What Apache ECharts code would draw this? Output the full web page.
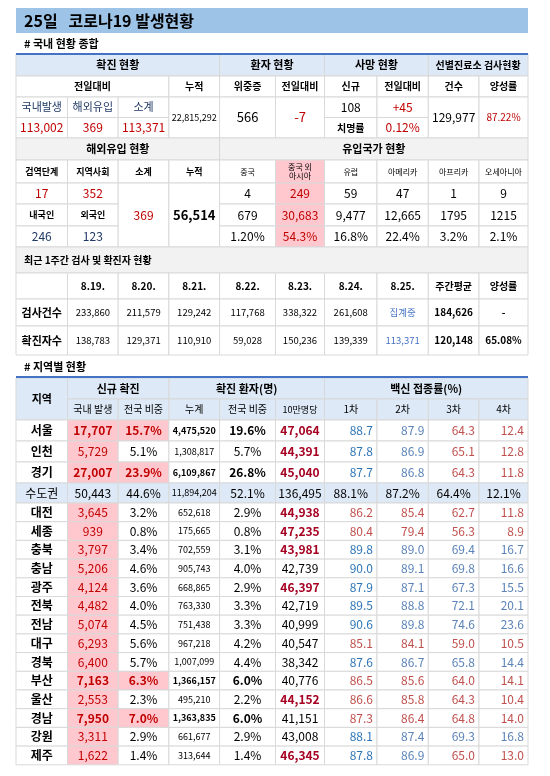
<!DOCTYPE html>
<html><head><meta charset="utf-8">
<script src="https://cdn.jsdelivr.net/npm/echarts@6/dist/echarts.min.js"></script>
<style>html,body{margin:0;background:#fff}#c{width:550px;height:776px}</style>
</head><body><div id="c"></div>
<script>
// 국내 현황 종합
var domesticNew = [113002, 369, 113371];
var cumulative = 22815292;
var critical = 566, criticalDiff = -7;
var deaths = 108, deathsDiff = 45, fatality = '0.12%';
var screenTests = 129977, screenPositive = '87.22%';
// 해외유입
var importStage = [17, 352], importTotal = 369, importCum = 56514;
var importNation = [246, 123];
var originNames = ['중국', '중국 외\n아시아', '유럽', '아메리카', '아프리카', '오세아니아'];
var originToday = [4, 249, 59, 47, 1, 9];
var originCum = [679, 30683, 9477, 12665, 1795, 1215];
var originShare = ['1.20%', '54.3%', '16.8%', '22.4%', '3.2%', '2.1%'];
// 최근 1주간
var weekDates = ['8.19.', '8.20.', '8.21.', '8.22.', '8.23.', '8.24.', '8.25.'];
var weekTests = [233860, 211579, 129242, 117768, 338322, 261608, null];
var weekCases = [138783, 129371, 110910, 59028, 150236, 139339, 113371];
var weekAvg = [184626, 120148], weekRate = ['-', '65.08%'];
// 지역별 현황
var regions = ['서울','인천','경기','수도권','대전','세종','충북','충남','광주','전북','전남','대구','경북','부산','울산','경남','강원','제주'];
var newCases = [17707,5729,27007,50443,3645,939,3797,5206,4124,4482,5074,6293,6400,7163,2553,7950,3311,1622];
var newShare = [15.7,5.1,23.9,44.6,3.2,0.8,3.4,4.6,3.6,4.0,4.5,5.6,5.7,6.3,2.3,7.0,2.9,1.4];
var cumCases = [4475520,1308817,6109867,11894204,652618,175665,702559,905743,668865,763330,751438,967218,1007099,1366157,495210,1363835,661677,313644];
var cumShare = [19.6,5.7,26.8,52.1,2.9,0.8,3.1,4.0,2.9,3.3,3.3,4.2,4.4,6.0,2.2,6.0,2.9,1.4];
var per100k = [47064,44391,45040,136495,44938,47235,43981,42739,46397,42719,40999,40547,38342,40776,44152,41151,43008,46345];
var dose1 = [88.7,87.8,87.7,88.1,86.2,80.4,89.8,90.0,87.9,89.5,90.6,85.1,87.6,86.5,86.6,87.3,88.1,87.8];
var dose2 = [87.9,86.9,86.8,87.2,85.4,79.4,89.0,89.1,87.1,88.8,89.8,84.1,86.7,85.6,85.8,86.4,87.4,86.9];
var dose3 = [64.3,65.1,64.3,64.4,62.7,56.3,69.4,69.8,67.3,72.1,74.6,59.0,65.8,64.0,64.3,64.8,69.3,65.0];
var dose4 = [12.4,12.8,11.8,12.1,11.8,8.9,16.7,16.6,15.5,20.1,23.6,10.5,14.4,14.1,10.4,14.0,16.8,13.0];
var hotRegion = [1,0,1,0,0,0,0,0,0,0,0,0,0,1,0,1,0,0];
var highPer100k = [1,1,1,0,1,1,1,0,1,0,0,0,0,0,1,0,0,1];
var doseTone = ['bbrr','bbrr','bbrr','','rrrr','rrrr','bbbb','bbbb','bbbb','bbbb','bbbb','rrrr','bbbb','rrrr','rrrr','rrrr','bbbb','bbrr'];

// 레이아웃
var COLS = [16, 67.5, 118.2, 168.9, 219.6, 275.5, 324.5, 377, 428.3, 479, 528];
var RED = '#c00000', NAVY = '#1f3864', BLUE = '#2e75b6', BLUE2 = '#5b83b8', RED2 = '#c0504d';
var HEAD = '#dde9f6', GRAY = '#f2f2f2', PINK = '#ffc7ce';
var cells = [];
function fmt(n) { return n.toLocaleString('en-US'); }
function cell(c0, c1, y0, y1, text, o) {
    o = o || {};
    cells.push({c0: c0, c1: c1, y0: y0, y1: y1, text: text == null ? '' : String(text),
        fill: o.fill || '#fff', color: o.color || '#000', bold: o.bold, size: o.size || 12,
        align: o.align || 'center', stroke: o.stroke === undefined ? '#d9d9d9' : o.stroke});
}

// 제목
cell(0, 10, 8, 33, '25일   코로나19 발생현황', {fill: '#9dc3e6', bold: true, size: 16, align: 'left', stroke: null});
cell(0, 10, 35, 52, '# 국내 현황 종합', {bold: true, size: 11, align: 'left', stroke: null});

// 국내 현황 표
var T = [54, 76, 97, 117.5, 138];
cell(0, 4, T[0], T[1], '확진 현황', {fill: HEAD, bold: true, size: 11});
cell(4, 6, T[0], T[1], '환자 현황', {fill: HEAD, bold: true, size: 11});
cell(6, 8, T[0], T[1], '사망 현황', {fill: HEAD, bold: true, size: 11});
cell(8, 10, T[0], T[1], '선별진료소 검사현황', {fill: HEAD, bold: true, size: 10});
cell(0, 3, T[1], T[2], '전일대비', {size: 10, bold: true});
['누적', '위중증', '전일대비', '신규', '전일대비', '건수', '양성률'].forEach(function (t, i) {
    cell(3 + i, 4 + i, T[1], T[2], t, {size: 10, bold: true});
});
['국내발생', '해외유입', '소계'].forEach(function (t, i) { cell(i, i + 1, T[2], T[3], t, {size: 11, color: NAVY}); });
domesticNew.forEach(function (v, i) { cell(i, i + 1, T[3], T[4], fmt(v), {size: 12, color: RED}); });
cell(3, 4, T[2], T[4], fmt(cumulative), {size: 9});
cell(4, 5, T[2], T[4], critical, {size: 13});
cell(5, 6, T[2], T[4], criticalDiff, {size: 13, color: RED});
cell(6, 7, T[2], T[3], deaths, {size: 12});
cell(7, 8, T[2], T[3], '+' + deathsDiff, {size: 12, color: RED});
cell(6, 7, T[3], T[4], '치명률', {size: 10, bold: true});
cell(7, 8, T[3], T[4], fatality, {size: 12, color: RED});
cell(8, 9, T[2], T[4], fmt(screenTests), {size: 12});
cell(9, 10, T[2], T[4], screenPositive, {size: 10, color: RED});

// 해외유입
var S = [138, 160, 183, 204, 226, 247];
cell(0, 4, S[0], S[1], '해외유입 현황', {fill: GRAY, bold: true, size: 11});
cell(4, 10, S[0], S[1], '유입국가 현황', {fill: GRAY, bold: true, size: 11});
['검역단계', '지역사회', '소계', '누적'].forEach(function (t, i) { cell(i, i + 1, S[1], S[2], t, {size: 9, bold: true}); });
originNames.forEach(function (t, i) {
    cell(4 + i, 5 + i, S[1], S[2], t, {size: 8, fill: i == 1 ? PINK : '#fff'});
});
importStage.forEach(function (v, i) { cell(i, i + 1, S[2], S[3], v, {size: 12, color: RED}); });
cell(0, 1, S[3], S[4], '내국인', {size: 9, bold: true});
cell(1, 2, S[3], S[4], '외국인', {size: 9, bold: true});
importNation.forEach(function (v, i) { cell(i, i + 1, S[4], S[5], v, {size: 12, color: NAVY}); });
cell(2, 3, S[2], S[5], importTotal, {size: 12, color: RED});
cell(3, 4, S[2], S[5], fmt(importCum), {size: 13, bold: true});
[originToday, originCum, originShare].forEach(function (arr, r) {
    arr.forEach(function (v, i) {
        // 아프리카·오세아니아 누적은 원본처럼 쉼표 없이
        var t = (typeof v == 'number' && i < 4) ? fmt(v) : v;
        cell(4 + i, 5 + i, S[2 + r], S[3 + r], t,
            {size: 12, fill: i == 1 ? PINK : '#fff', color: i == 1 ? RED : '#000'});
    });
});

// 최근 1주간
cell(0, 10, 247, 273, '최근 1주간 검사 및 확진자 현황', {fill: GRAY, bold: true, size: 10, align: 'left'});
var W = [273, 299, 326, 355];
cell(0, 1, W[0], W[1], '');
weekDates.forEach(function (d, i) { cell(1 + i, 2 + i, W[0], W[1], d, {size: 10, bold: true}); });
cell(8, 9, W[0], W[1], '주간평균', {size: 10, bold: true});
cell(9, 10, W[0], W[1], '양성률', {size: 10, bold: true});
[['검사건수', weekTests], ['확진자수', weekCases]].forEach(function (row, r) {
    cell(0, 1, W[1 + r], W[2 + r], row[0], {size: 11, bold: true});
    row[1].forEach(function (v, i) {
        var last = i == 6;
        cell(1 + i, 2 + i, W[1 + r], W[2 + r], v == null ? '집계중' : fmt(v), {size: 9.5, color: last ? '#4472c4' : '#000'});
    });
    cell(8, 9, W[1 + r], W[2 + r], fmt(weekAvg[r]), {size: 10, bold: true});
    cell(9, 10, W[1 + r], W[2 + r], weekRate[r], {size: 10, bold: true});
});

// 지역별 현황
cell(0, 10, 358, 376, '# 지역별 현황', {bold: true, size: 11, align: 'left', stroke: null});
var H = [378, 399, 420];
cell(0, 1, H[0], H[2], '지역', {fill: HEAD, bold: true, size: 11});
cell(1, 3, H[0], H[1], '신규 확진', {fill: HEAD, bold: true, size: 11});
cell(3, 6, H[0], H[1], '확진 환자(명)', {fill: HEAD, bold: true, size: 11});
cell(6, 10, H[0], H[1], '백신 접종률(%)', {fill: HEAD, bold: true, size: 11});
['국내 발생', '전국 비중', '누계', '전국 비중', '10만명당', '1차', '2차', '3차', '4차'].forEach(function (t, i) {
    cell(1 + i, 2 + i, H[1], H[2], t, {fill: HEAD, size: i == 4 ? 9 : 10});
});
var rowY = [420, 441, 462, 483, 503];
for (var k = 1; k <= 14; k++) rowY.push(503 + k * 18.7);
regions.forEach(function (name, r) {
    var y0 = rowY[r], y1 = rowY[r + 1], cap = name == '수도권', hot = hotRegion[r];
    var bg = cap ? HEAD : '#fff';
    cell(0, 1, y0, y1, name, {fill: bg, bold: !cap, size: 12});
    cell(1, 2, y0, y1, fmt(newCases[r]), {fill: cap ? bg : PINK, color: cap ? '#000' : RED, bold: hot, size: 12});
    cell(2, 3, y0, y1, newShare[r].toFixed(1) + '%', {fill: cap ? bg : (hot ? PINK : '#fff'), color: hot ? RED : '#000', bold: hot, size: 12});
    cell(3, 4, y0, y1, fmt(cumCases[r]), {fill: bg, bold: hot, size: 9});
    cell(4, 5, y0, y1, cumShare[r].toFixed(1) + '%', {fill: bg, bold: hot, size: 12});
    cell(5, 6, y0, y1, fmt(per100k[r]), {fill: bg, color: highPer100k[r] ? '#a50021' : '#000', bold: highPer100k[r], size: 12});
    [dose1, dose2, dose3, dose4].forEach(function (arr, j) {
        var tone = doseTone[r].charAt(j);
        var col = cap ? '#000' : (tone == 'b' ? (j == 0 ? BLUE : BLUE2) : RED2);
        cell(6 + j, 7 + j, y0, y1, arr[r].toFixed(1) + (cap ? '%' : ''), {fill: bg, color: col, size: 12, align: cap ? 'center' : 'right'});
    });
});

var chart = echarts.init(document.getElementById('c'));
chart.setOption({
    animation: false,
    grid: {left: 0, right: 0, top: 0, bottom: 0},
    xAxis: {type: 'value', min: 0, max: 550, show: false},
    yAxis: {type: 'value', min: 0, max: 776, inverse: true, show: false},
    series: [{
        type: 'custom',
        data: cells.map(function (c, i) { return [COLS[c.c0], COLS[c.c1], c.y0, c.y1, i]; }),
        renderItem: function (params, api) {
            var c = cells[api.value(4)];
            var p0 = api.coord([api.value(0), api.value(2)]);
            var p1 = api.coord([api.value(1), api.value(3)]);
            var w = p1[0] - p0[0], h = p1[1] - p0[1];
            var pad = c.align == 'left' ? 8 : (c.align == 'right' ? 4 : w / 2);
            return {
                type: 'group',
                children: [
                    {type: 'rect', shape: {x: p0[0], y: p0[1], width: w, height: h},
                        style: {fill: c.fill, stroke: c.stroke, lineWidth: c.stroke ? 1 : 0}},
                    {type: 'text', style: {
                        text: c.text, x: c.align == 'right' ? p1[0] - pad : p0[0] + pad, y: p0[1] + h / 2,
                        align: c.align, verticalAlign: 'middle', fill: c.color,
                        font: (c.bold ? 'bold ' : '') + c.size + 'px "Noto Sans CJK KR", sans-serif',
                        lineHeight: c.size + 1
                    }}
                ]
            };
        }
    }, {
        // 표 윗선
        type: 'custom',
        data: [[54], [377]],
        renderItem: function (params, api) {
            var a = api.coord([COLS[0], api.value(0)]), b = api.coord([COLS[10], api.value(0)]);
            return {type: 'line', shape: {x1: a[0], y1: a[1], x2: b[0], y2: b[1]}, style: {stroke: '#4472c4', lineWidth: 2}};
        }
    }]
});
</script></body></html>
